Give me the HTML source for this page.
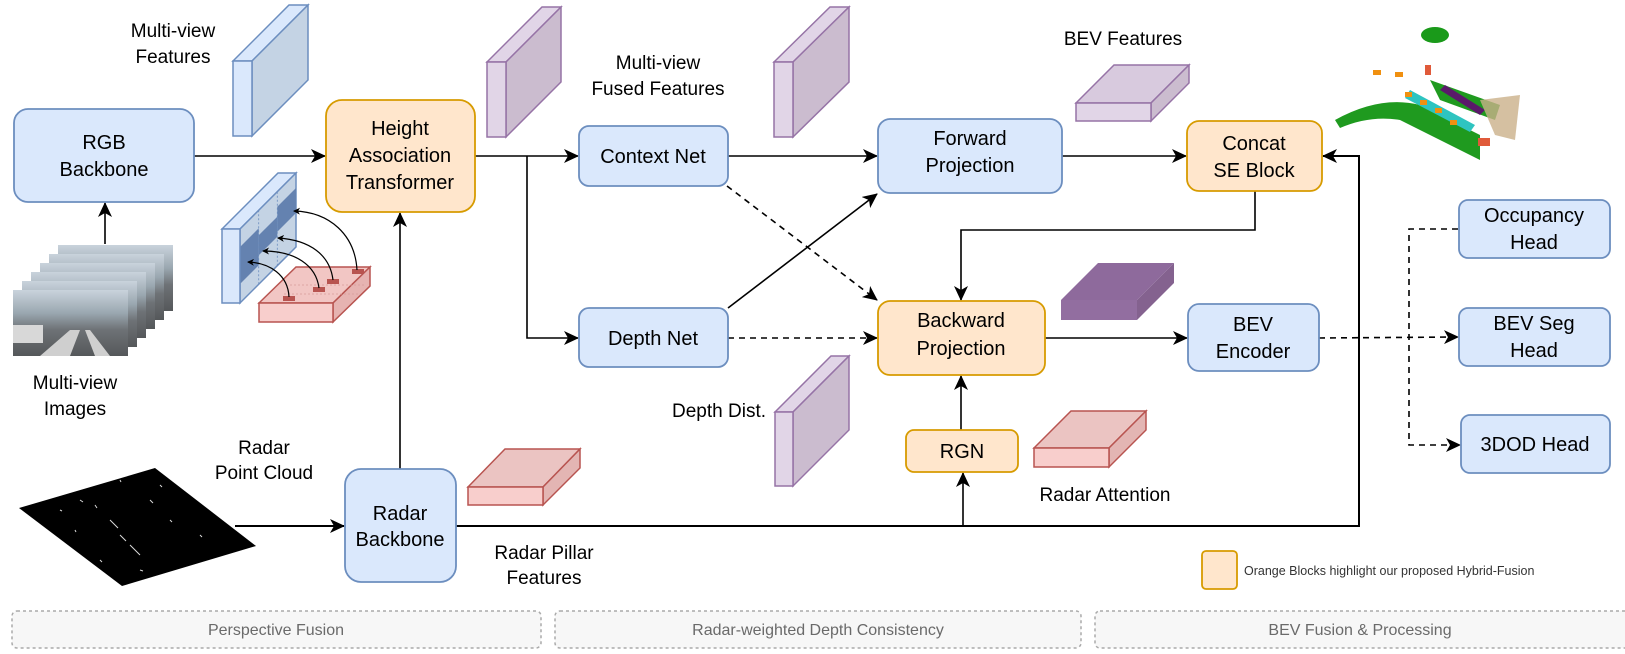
<!DOCTYPE html>
<html><head><meta charset="utf-8"><style>
html,body{margin:0;padding:0;background:#fff;}
svg{display:block;font-family:"Liberation Sans",Arial,sans-serif;}
</style></head><body>
<svg width="1625" height="654" viewBox="0 0 1625 654" xmlns="http://www.w3.org/2000/svg">
<defs>
<marker id="ah" markerWidth="15" markerHeight="14" refX="14" refY="7" orient="auto" markerUnits="userSpaceOnUse">
<path d="M0,0 L15,7 L0,14 L4,7 Z" fill="#000"/></marker>
<marker id="as" markerWidth="7" markerHeight="7" refX="6" refY="3.5" orient="auto" markerUnits="userSpaceOnUse">
<path d="M0,0 L7,3.5 L0,7 L2,3.5 Z" fill="#000"/></marker>
<linearGradient id="ph" x1="0" y1="0" x2="0" y2="1">
<stop offset="0" stop-color="#c9d3dc"/><stop offset="0.35" stop-color="#9aa7b0"/><stop offset="0.6" stop-color="#6e7276"/><stop offset="1" stop-color="#55585a"/></linearGradient>
</defs>

<!-- photos -->
<g stroke="none">
<rect x="58" y="245" width="115" height="66" fill="url(#ph)"/>
<rect x="49" y="254" width="115" height="66" fill="url(#ph)"/>
<rect x="40" y="263" width="115" height="66" fill="url(#ph)"/>
<rect x="31" y="272" width="115" height="66" fill="url(#ph)"/>
<rect x="22" y="281" width="115" height="66" fill="url(#ph)"/>
<rect x="13" y="290" width="115" height="66" fill="url(#ph)"/>
<rect x="13" y="325" width="30" height="18" fill="#d8d8d8"/>
<path d="M40,356 L70,330 L80,330 L70,356Z M95,356 L85,330 L90,330 L110,356Z" fill="#cfcfcf"/>
</g>

<!-- blue feature block -->
<g stroke="#6c8ebf" stroke-width="1.5">
<polygon points="233,61 289,5 308,5 252,61" fill="#dae8fc"/>
<polygon points="252,61 308,5 308,80 252,136" fill="#c4d3e4"/>
<rect x="233" y="61" width="19" height="75" fill="#dae8fc"/>
</g>
<!-- purple blocks -->
<g stroke="#9673a6" stroke-width="1.5">
<polygon points="487,62 542,7 561,7 506,62" fill="#e1d5e7"/>
<polygon points="506,62 561,7 561,82 506,137" fill="#cbbccf"/>
<rect x="487" y="62" width="19" height="75" fill="#e1d5e7"/>
<polygon points="774,62 830,7 849,7 793,62" fill="#e1d5e7"/>
<polygon points="793,62 849,7 849,82 793,137" fill="#cbbccf"/>
<rect x="774" y="62" width="19" height="75" fill="#e1d5e7"/>
<polygon points="775,412 831,356 849,356 793,412" fill="#e1d5e7"/>
<polygon points="793,412 849,356 849,430 793,486" fill="#cbbccf"/>
<rect x="775" y="412" width="18" height="74" fill="#e1d5e7"/>
<polygon points="1076,103 1114,65 1189,65 1151,103" fill="#d8cade"/>
<polygon points="1151,103 1189,65 1189,83 1151,121" fill="#cbbccf"/>
<rect x="1076" y="103" width="75" height="18" fill="#e1d5e7"/>
</g>
<g stroke="none">
<polygon points="1061,300 1098,263 1174,263 1137,300" fill="#8e6a9c"/>
<polygon points="1137,300 1174,263 1174,283 1137,320" fill="#84628f"/>
<rect x="1061" y="300" width="76" height="20" fill="#926ea0"/>
</g>
<!-- red slabs -->
<g stroke="#b85450" stroke-width="1.5">
<polygon points="468,487 505,449 580,449 543,487" fill="#ebc4c2"/>
<polygon points="543,487 580,449 580,468 543,505" fill="#e3b5b3"/>
<rect x="468" y="487" width="75" height="18" fill="#f8cecc"/>
<polygon points="1034,448 1071,411 1146,411 1109,448" fill="#ebc4c2"/>
<polygon points="1109,448 1146,411 1146,430 1109,467" fill="#e3b5b3"/>
<rect x="1034" y="448" width="75" height="19" fill="#f8cecc"/>
</g>

<!-- mini grid diagram -->
<g stroke="#6c8ebf" stroke-width="1.5">
<polygon points="222,229 278,173 296,173 240,229" fill="#dae8fc"/>
<polygon points="240,229 296,173 296,247 240,303" fill="#c4d3e4"/>
</g>
<g fill="#6482b0" stroke="none">
<polygon points="240,247 258.7,228.3 258.7,265.3 240,284"/>
<polygon points="258.7,235.3 277.3,216.7 277.3,236.7 258.7,255.3"/>
<polygon points="277.3,206.7 296,188 296,213 277.3,231.7"/>
</g>
<g stroke="#6c8ebf" stroke-width="0.8" stroke-dasharray="2,2">
<line x1="258.7" y1="210.3" x2="258.7" y2="284.3"/><line x1="277.3" y1="191.7" x2="277.3" y2="265.7"/>
</g>
<g stroke="#6c8ebf" stroke-width="1.5" fill="#dae8fc"><rect x="222" y="229" width="18" height="74"/></g>
<g stroke="#b85450" stroke-width="1.5">
<polygon points="259,303 296,267 370,267 333,303" fill="#f2c6c4"/>
<polygon points="333,303 370,267 370,286 333,322" fill="#e6b3b1"/>
<rect x="259" y="303" width="74" height="19" fill="#f8cecc"/>
</g>
<g stroke="#d79a98" stroke-width="0.8" stroke-dasharray="2,2"><line x1="284" y1="294" x2="358" y2="294"/><line x1="290" y1="285" x2="364" y2="285"/></g>
<g fill="#b85450"><rect x="283" y="296" width="12" height="5"/><rect x="313" y="287" width="12" height="5"/><rect x="327" y="279" width="12" height="5"/><rect x="352" y="269" width="12" height="5"/></g>
<g fill="none" stroke="#000" stroke-width="1.2">
<path d="M289,297 C288,275 270,263 248,262" marker-end="url(#as)"/>
<path d="M319,288 C316,265 295,251 263,251" marker-end="url(#as)"/>
<path d="M333,280 C330,255 310,240 278,238" marker-end="url(#as)"/>
<path d="M357,270 C355,235 330,212 294,211" marker-end="url(#as)"/>
</g>

<!-- radar point cloud -->
<polygon points="19,508 155,468 256,546 122,586" fill="#000"/>
<g stroke="#fff" stroke-width="1" fill="none" opacity="0.85">
<path d="M80,500 l3,2 M95,505 l2,3 M110,520 l8,8 M120,535 l6,6 M130,545 l10,10 M60,510 l2,1 M150,500 l3,3 M170,520 l2,2 M100,560 l2,2 M140,570 l3,1 M200,535 l2,2 M75,530 l1,2 M160,485 l2,2 M120,480 l1,2"/>
</g>

<!-- connectors -->
<g fill="none" stroke="#000" stroke-width="1.6">
<line x1="194" y1="156" x2="325" y2="156" marker-end="url(#ah)"/>
<line x1="105" y1="244" x2="105" y2="203" marker-end="url(#ah)"/>
<line x1="400" y1="469" x2="400" y2="213" marker-end="url(#ah)"/>
<line x1="475" y1="156" x2="578" y2="156" marker-end="url(#ah)"/>
<polyline points="527,156 527,338 578,338" marker-end="url(#ah)"/>
<line x1="728" y1="156" x2="877" y2="156" marker-end="url(#ah)"/>
<line x1="728" y1="308" x2="877" y2="194" marker-end="url(#ah)"/>
<line x1="1062" y1="156" x2="1186" y2="156" marker-end="url(#ah)"/>
<polyline points="1255,191 1255,230 961,230 961,300" marker-end="url(#ah)"/>
<line x1="1045" y1="338" x2="1187" y2="338" marker-end="url(#ah)"/>
<line x1="961" y1="430" x2="961" y2="376" marker-end="url(#ah)"/>
<line x1="963" y1="526" x2="963" y2="473" marker-end="url(#ah)"/>
<polyline points="456,526 1359,526 1359,156 1323,156" marker-end="url(#ah)" stroke-width="2"/>
<line x1="235" y1="526" x2="344" y2="526" marker-end="url(#ah)" stroke-width="2"/>
</g>
<g fill="none" stroke="#000" stroke-width="1.6" stroke-dasharray="6,5">
<line x1="727" y1="186" x2="877" y2="300" marker-end="url(#ah)"/>
<line x1="728" y1="338" x2="877" y2="338" marker-end="url(#ah)"/>
<line x1="1319" y1="338" x2="1458" y2="337" marker-end="url(#ah)"/>
<polyline points="1458,229 1409,229 1409,445 1460,445" marker-end="url(#ah)"/>
</g>

<!-- boxes -->
<g stroke-width="1.8">
<rect x="14" y="109" width="180" height="93" rx="14" fill="#dae8fc" stroke="#6c8ebf"/>
<rect x="326" y="100" width="149" height="112" rx="16" fill="#ffe6cc" stroke="#d79b00"/>
<rect x="579" y="126" width="149" height="60" rx="10" fill="#dae8fc" stroke="#6c8ebf"/>
<rect x="579" y="308" width="149" height="59" rx="10" fill="#dae8fc" stroke="#6c8ebf"/>
<rect x="878" y="119" width="184" height="74" rx="12" fill="#dae8fc" stroke="#6c8ebf"/>
<rect x="878" y="301" width="167" height="74" rx="12" fill="#ffe6cc" stroke="#d79b00"/>
<rect x="1187" y="121" width="135" height="70" rx="12" fill="#ffe6cc" stroke="#d79b00"/>
<rect x="1188" y="304" width="131" height="67" rx="11" fill="#dae8fc" stroke="#6c8ebf"/>
<rect x="1459" y="200" width="151" height="58" rx="9" fill="#dae8fc" stroke="#6c8ebf"/>
<rect x="1459" y="308" width="151" height="58" rx="9" fill="#dae8fc" stroke="#6c8ebf"/>
<rect x="1461" y="415" width="149" height="58" rx="9" fill="#dae8fc" stroke="#6c8ebf"/>
<rect x="906" y="430" width="112" height="42" rx="8" fill="#ffe6cc" stroke="#d79b00"/>
<rect x="345" y="469" width="111" height="113" rx="16" fill="#dae8fc" stroke="#6c8ebf"/>
<rect x="1202" y="551" width="35" height="38" rx="4" fill="#ffe6cc" stroke="#d79b00"/>
</g>

<!-- point cloud graphic -->
<g stroke="none">
<ellipse cx="1435" cy="35" rx="14" ry="8" fill="#1a9a1a"/>
<path d="M1335,120 Q1380,95 1420,105 L1480,135 L1480,160 L1440,140 L1400,120 Q1370,115 1340,128Z" fill="#1f9a1f"/>
<path d="M1430,80 L1500,105 L1495,120 L1440,100Z" fill="#1f9a1f"/>
<path d="M1410,90 L1475,125 L1470,132 L1405,98Z" fill="#2ec4c0"/>
<path d="M1445,85 L1485,110 L1480,115 L1440,90Z" fill="#5a1a6a"/>
<path d="M1480,100 L1520,95 L1515,140 L1495,135Z" fill="#cbb08a" opacity="0.8"/>
<g fill="#f09010"><rect x="1373" y="70" width="8" height="5"/><rect x="1395" y="72" width="8" height="5"/><rect x="1405" y="92" width="7" height="5"/><rect x="1420" y="100" width="7" height="5"/><rect x="1435" y="108" width="7" height="5"/><rect x="1450" y="120" width="7" height="5"/></g>
<rect x="1478" y="138" width="12" height="8" fill="#e05a3a"/>
<rect x="1425" y="65" width="6" height="10" fill="#e05a3a"/>
</g>

<!-- texts -->
<g font-size="20" fill="#000" text-anchor="middle">
<text x="104" y="149">RGB</text><text x="104" y="176">Backbone</text>
<text x="400" y="135">Height</text><text x="400" y="162">Association</text><text x="400" y="189">Transformer</text>
<text x="653" y="163">Context Net</text>
<text x="653" y="345">Depth Net</text>
<text x="970" y="145">Forward</text><text x="970" y="172">Projection</text>
<text x="961" y="327">Backward</text><text x="961" y="355">Projection</text>
<text x="1254" y="150">Concat</text><text x="1254" y="177">SE Block</text>
<text x="1253" y="331">BEV</text><text x="1253" y="358">Encoder</text>
<text x="1534" y="222">Occupancy</text><text x="1534" y="249">Head</text>
<text x="1534" y="330">BEV Seg</text><text x="1534" y="357">Head</text>
<text x="1535" y="451">3DOD Head</text>
<text x="962" y="458">RGN</text>
<text x="400" y="520">Radar</text><text x="400" y="546">Backbone</text>
</g>
<g font-size="19" fill="#000" text-anchor="middle">
<text x="173" y="37">Multi-view</text><text x="173" y="63">Features</text>
<text x="658" y="69">Multi-view</text><text x="658" y="95">Fused Features</text>
<text x="1123" y="45">BEV Features</text>
<text x="75" y="389">Multi-view</text><text x="75" y="415">Images</text>
<text x="264" y="454">Radar</text><text x="264" y="479">Point Cloud</text>
<text x="544" y="559">Radar Pillar</text><text x="544" y="584">Features</text>
<text x="766" y="417" text-anchor="end">Depth Dist.</text>
<text x="1105" y="501">Radar Attention</text>
</g>
<text x="1244" y="575" font-size="12.5" fill="#333">Orange Blocks highlight our proposed Hybrid-Fusion</text>

<!-- bottom sections -->
<g fill="#f7f7f7" stroke="#aaa" stroke-width="1.5" stroke-dasharray="3,3">
<rect x="12" y="611" width="529" height="37" rx="5"/>
<rect x="555" y="611" width="526" height="37" rx="5"/>
<rect x="1095" y="611" width="540" height="37" rx="5"/>
</g>
<g font-size="16" fill="#6a6a6a" text-anchor="middle">
<text x="276" y="635">Perspective Fusion</text>
<text x="818" y="635">Radar-weighted Depth Consistency</text>
<text x="1360" y="635">BEV Fusion &amp; Processing</text>
</g>
</svg>
</body></html>
